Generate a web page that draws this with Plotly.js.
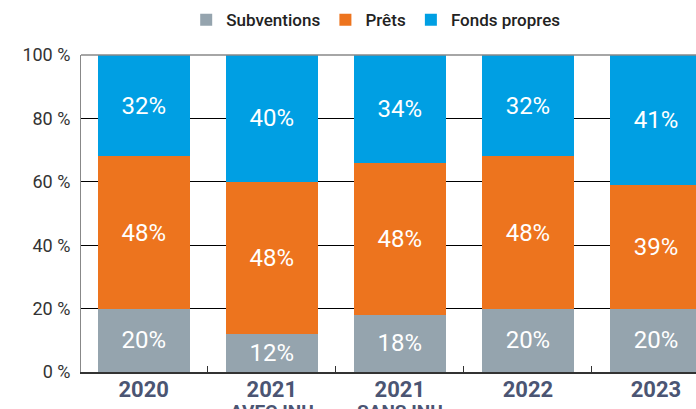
<!DOCTYPE html>
<html>
<head>
<meta charset="utf-8">
<script src="https://cdn.plot.ly/plotly-3.0.1.min.js"></script>
<style>html,body{margin:0;padding:0;background:#fff;overflow:hidden}#chart{width:696px;height:409px}</style>
</head>
<body>
<div id="chart"></div>
<script>
const categories = ["2020", "2021 avec", "2021 sans", "2022", "2023"];
const tickLabels = ["2020", "2021", "2021", "2022", "2023"];
const subLabels = ["", "AVEC INU", "SANS INU", "", ""];
const subventions = [20, 12, 18, 20, 20];
const prets = [48, 48, 48, 48, 39];
const fondsPropres = [32, 40, 34, 32, 41];
const yTicks = [0, 20, 40, 60, 80, 100];
const yTickText = ["0 %", "20 %", "40 %", "60 %", "80 %", "100 %"];

const fam = "Roboto";
const labelFont = {family: fam, size: 24, color: "#ffffff"};
function mk(name, vals, color) {
  return {
    type: "bar", name: name, x: categories, y: vals,
    text: vals.map(v => v + "%"), texttemplate: "%{text}",
    marker: {color: color, line: {width: 0}},
    textposition: "inside", insidetextanchor: "middle",
    textangle: 0, textfont: labelFont, hoverinfo: "skip"
  };
}
const data = [
  mk("Subventions", subventions, "#95a4ae"),
  mk("Prêts", prets, "#ed741e"),
  mk("Fonds propres", fondsPropres, "#009fe3")
];
const annotations = categories.map((c, i) => ({
  xref: "x", yref: "paper", x: c, y: -0.082, yanchor: "top", xanchor: "center",
  text: subLabels[i], showarrow: false,
  font: {family: fam, size: 19, color: "#4b5573", weight: "bold"}
})).filter(a => a.text);
const layout = {
  width: 696, height: 409,
  margin: {l: 81, r: 0, t: 55, b: 37},
  paper_bgcolor: "#ffffff", plot_bgcolor: "#ffffff",
  barmode: "stack", bargap: 0.28,
  showlegend: true,
  legend: {orientation: "h", x: 0.48, xanchor: "center", y: 1.11, yanchor: "middle",
    traceorder: "normal", font: {family: fam, size: 17, color: "#222", weight: 500},
    itemwidth: 30},
  xaxis: {
    type: "category", range: [-0.49, 4.3125],
    tickmode: "array", tickvals: categories, ticktext: tickLabels,
    showline: true, linecolor: "#333", linewidth: 1.5,
    ticks: "inside", tickson: "boundaries", ticklen: 6, tickcolor: "#333",
    tickfont: {family: fam, size: 22, color: "#4b5573", weight: "bold"},
    ticklabelstandoff: -3,
    showgrid: false, zeroline: false, fixedrange: true
  },
  yaxis: {
    range: [0, 100], tickmode: "array", tickvals: yTicks, ticktext: yTickText,
    showline: true, linecolor: "#888", linewidth: 1,
    showgrid: true, gridcolor: "#000", gridwidth: 1, zeroline: false,
    ticks: "", ticklabelstandoff: 6,
    tickfont: {family: fam, size: 18, color: "#333"},
    fixedrange: true
  },
  annotations: annotations,
  shapes: [{type: "line", xref: "paper", yref: "y domain", x0: 0, x1: 1, y0: 1, y1: 1,
    line: {color: "#888", width: 1.5}, layer: "above"}]
};
Plotly.newPlot("chart", data, layout, {displayModeBar: false, staticPlot: true});
</script>
</body>
</html>
